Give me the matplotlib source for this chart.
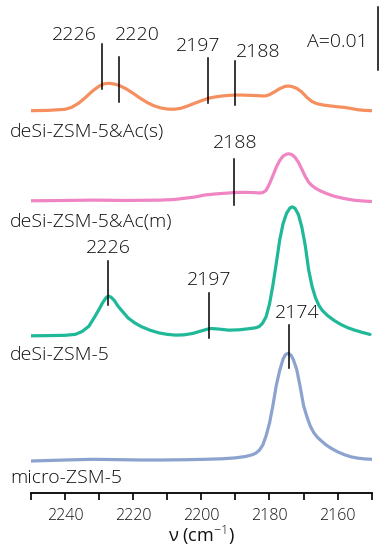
import matplotlib
matplotlib.use("Agg")
import matplotlib.pyplot as plt
from matplotlib.ticker import MultipleLocator

plt.rcParams['font.family'] = ['Open Sans', 'DejaVu Sans']
plt.rcParams['font.weight'] = 'light'
plt.rcParams['mathtext.fontset'] = 'custom'
plt.rcParams['mathtext.rm'] = 'Open Sans:light'
plt.rcParams['mathtext.it'] = 'Open Sans:light'

# ---- data (absorbance x 1e-4, each spectrum relative to its own baseline) ----
wn_s = [2250, 2245, 2240, 2238, 2236, 2234, 2232, 2230, 2228.5, 2227, 2225.5, 2224, 2222,
        2220, 2218, 2216, 2214, 2212, 2210, 2208, 2206, 2204, 2202, 2200, 2198, 2196, 2194,
        2192, 2190, 2188, 2186, 2184, 2182, 2181, 2180, 2178.5, 2177, 2175.5, 2174.5, 2173.5,
        2172, 2170.5, 2169, 2167.5, 2166, 2164, 2162, 2160, 2158, 2156, 2154, 2152, 2150]
abs_s = [0, 0.5, 2.2, 5.5, 12, 21, 31, 39, 42.8, 43.5, 42.3, 39.8, 34.5,
         27.5, 20, 13.3, 8, 4.5, 2.6, 2.3, 3.8, 7.5, 11.8, 15.8, 19.7, 21.8, 23.3,
         24.3, 24.9, 24.8, 24.4, 24.0, 23.4, 23.6, 25.5, 30, 35, 38.5, 39.2, 38.4,
         35.5, 29.5, 21, 14.5, 11, 8.8, 7.5, 6.2, 5.2, 3.5, 1.5, 0.5, 0]

wn_m = [2250, 2240, 2232, 2222, 2212, 2208, 2205, 2202, 2199, 2196, 2193, 2190, 2187,
        2184.5, 2183, 2182, 2181, 2180, 2179, 2178, 2177, 2176, 2175, 2174.3, 2173.5,
        2172.5, 2171.5, 2170.5, 2169.5, 2168.5, 2167.5, 2166.5, 2165, 2163, 2161, 2158,
        2155, 2152, 2150]
abs_m = [0, 0.5, 1.1, 0.5, 1.1, 2.0, 4.0, 5.9, 9.2, 10.8, 12.0, 13.2, 13.4,
         13.0, 12.4, 13.0, 16.5, 27, 40, 53.5, 64, 71, 74, 74.6, 73.5,
         69, 61, 50, 38.6, 29.5, 24, 20, 15.5, 11, 7.2, 3.5,
         0.8, -0.5, -1.1]

wn_d = [2250, 2245, 2240, 2237, 2235, 2233, 2231.5, 2230, 2229, 2228, 2227.3, 2226.5,
        2225.5, 2224.5, 2223, 2221.5, 2219.5, 2217.5, 2215, 2212.5, 2210, 2207.5, 2205,
        2202.5, 2200, 2197.5, 2195, 2192, 2189, 2186, 2184, 2183, 2182, 2181, 2180, 2179,
        2178, 2177, 2176, 2175, 2174, 2173.3, 2172.5, 2171.5, 2170.5, 2169.5, 2168.5,
        2167.5, 2166.5, 2165.5, 2164.5, 2163, 2161, 2159, 2157, 2155, 2153, 2150.5]
abs_d = [-0.3, 0, 0.5, 2, 6.5, 15, 28, 42, 52, 60, 62.7, 61,
         55.5, 47, 37.5, 28, 20, 14, 8.5, 4.4, 2, 0.8, 1.3,
         3.5, 7.5, 11.4, 10.5, 8.7, 9.2, 11, 12.5, 14.5, 20, 30, 50, 80,
         115, 152, 178, 194, 202.5, 204.4, 202, 192, 172, 143, 104,
         78, 60, 48, 40, 32, 24, 17.5, 12.5, 8.7, 5.5, 1.9]

wn_u = [2250, 2245, 2240, 2232, 2225, 2218, 2212, 2205, 2199, 2194, 2190, 2187, 2185,
        2184, 2183, 2182, 2181, 2180, 2179, 2178, 2177, 2176, 2175.3, 2174.5, 2173.7,
        2173, 2172, 2171, 2170, 2169, 2168, 2167, 2166, 2165, 2163.5, 2162, 2160, 2158,
        2156, 2154, 2152, 2150]
abs_u = [0, 0.8, 1.6, 2.7, 2.2, 1.6, 1.6, 2.0, 2.7, 3.5, 5.0, 7.2, 10,
         12.5, 17, 25, 40, 60, 88, 120, 144, 162, 169, 171, 168,
         161, 145, 118, 88, 70, 55, 45, 38, 33, 26, 20.5, 14.5, 10,
         6.5, 4.5, 3.3, 2.7]

names = ['deSi-ZSM-5&Ac(s)', 'deSi-ZSM-5&Ac(m)', 'deSi-ZSM-5', 'micro-ZSM-5']
offsets = [0.0556, 0.0413, 0.0199, 0.0]
colors = ['#f68f5f', '#ef85c2', '#1fb898', '#8ca2cf']

# peak markers: (wavenumber, y_bottom, y_top)
mark_wn = [2229.2, 2224.2, 2198.0, 2190.2, 2190.5, 2227.4, 2197.8, 2174.3]
mark_lo = [0.05905, 0.05698, 0.05683, 0.05651, 0.04063, 0.02476, 0.01952, 0.01476]
mark_hi = [0.06619, 0.06413, 0.06397, 0.06349, 0.04794, 0.03175, 0.02667, 0.02159]

# peak labels
lab_text = ['2226', '2220', '2197', '2188', '2188', '2226', '2197', '2174']
lab_x = [2237.4, 2218.9, 2201.0, 2183.4, 2190.1, 2227.4, 2197.8, 2171.9]
lab_y = [0.06762, 0.06762, 0.06587, 0.06492, 0.05048, 0.03381, 0.02873, 0.02349]

name_y = [0.05222, 0.03794, 0.01683, -0.0027]

fig = plt.figure(figsize=(3.87, 5.5), dpi=100)
ax = fig.add_axes([31 / 387, 1 - 492.7 / 550, (371.7 - 31) / 387, 492.7 / 550])

series = [(wn_s, abs_s), (wn_m, abs_m), (wn_d, abs_d), (wn_u, abs_u)]
for (w, a), off, c in zip(series, offsets, colors):
    ax.plot(w, [v * 1e-4 + off for v in a], color=c, lw=2.3, solid_capstyle='round',
            solid_joinstyle='round')

for w, lo, hi in zip(mark_wn, mark_lo, mark_hi):
    ax.plot([w, w], [lo, hi], color='black', lw=1.1)

for t, x, y in zip(lab_text, lab_x, lab_y):
    ax.text(x, y, t, ha='center', va='center', fontsize=14, color='#111111')

for n, y in zip(names, name_y):
    ax.text(2256.2, y, n, ha='left', va='center', fontsize=14, color='#111111',
            clip_on=False)

# scale bar
ax.plot([2148.15, 2148.15], [0.06206, 0.07206], color='black', lw=1.1, clip_on=False)
ax.text(2160.2, 0.06651, 'A=0.01', ha='center', va='center', fontsize=14, color='#111111')

ax.set_xlim(2250, 2150)
ax.set_ylim(-0.00503, 0.07317)
ax.xaxis.set_minor_locator(MultipleLocator(10))
ax.set_xticks([2240, 2220, 2200, 2180, 2160])
ax.tick_params(axis='x', which='both', direction='out', length=5, width=1.3,
               labelsize=11.5, pad=6, colors='#111111')
ax.set_yticks([])
for s in ['left', 'right', 'top']:
    ax.spines[s].set_visible(False)
ax.spines['bottom'].set_linewidth(1.3)
ax.patch.set_alpha(0)
ax.set_xlabel(r'ν (cm$^{-1}$)', fontsize=13, labelpad=0, color='#111111')

fig.savefig('out.png', dpi=100)
